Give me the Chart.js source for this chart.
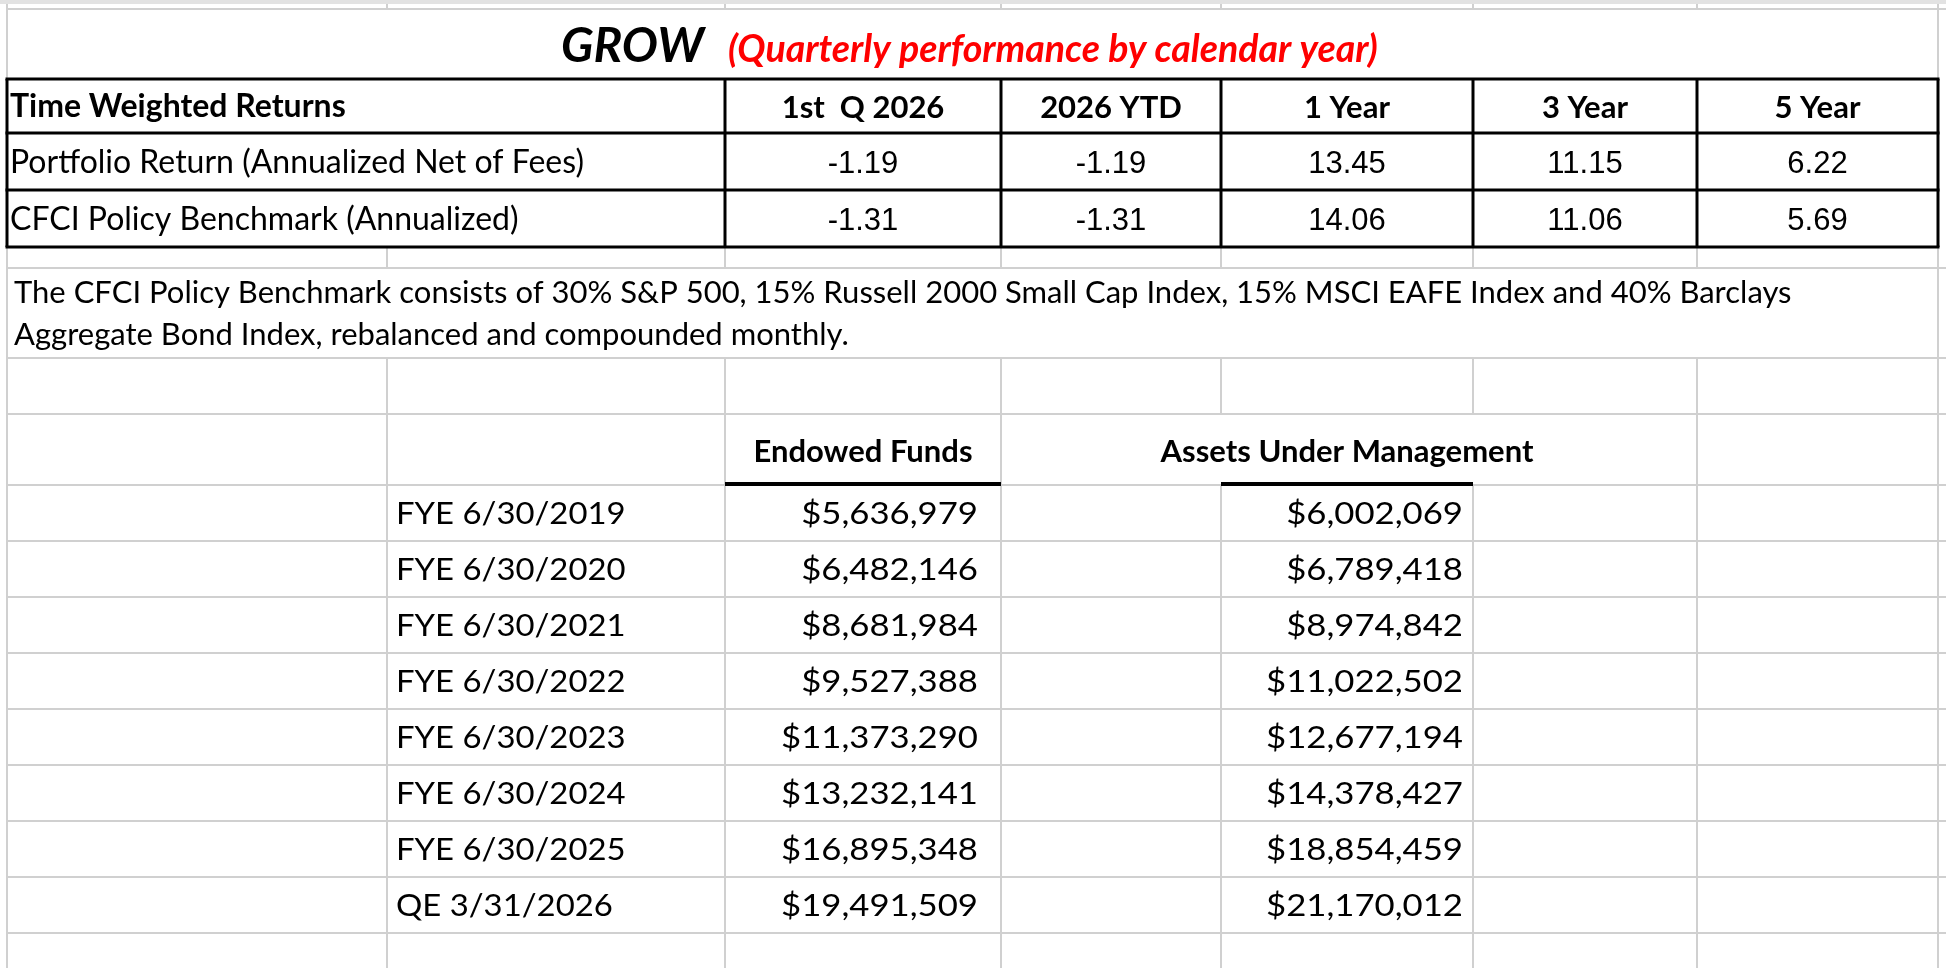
<!DOCTYPE html>
<html>
<head>
<meta charset="utf-8">
<script src="https://cdn.jsdelivr.net/npm/chart.js@4.4.1/dist/chart.umd.min.js"></script>
<style>
  html, body { margin: 0; padding: 0; background: #ffffff; overflow: hidden; }
  #wrap { position: relative; width: 1946px; height: 968px; }
</style>
</head>
<body>
<div id="wrap"><canvas id="sheet"></canvas></div>
<script>
// ---------------- DATA ----------------
const titleMain = "GROW";
const titleSub = "(Quarterly performance by calendar year)";
const twrCorner = "Time Weighted Returns";
const twrHeaders = ["1st  Q 2026", "2026 YTD", "1 Year", "3 Year", "5 Year"];
const twrRowLabels = ["Portfolio Return (Annualized Net of Fees)", "CFCI Policy Benchmark (Annualized)"];
const portfolioReturns = [-1.19, -1.19, 13.45, 11.15, 6.22];
const benchmarkReturns = [-1.31, -1.31, 14.06, 11.06, 5.69];
const noteLines = [
  "The CFCI Policy Benchmark consists of 30% S&P 500, 15% Russell 2000 Small Cap Index, 15% MSCI EAFE Index and 40% Barclays",
  "Aggregate Bond Index, rebalanced and compounded monthly."
];
const assetHeaders = ["Endowed Funds", "Assets Under Management"];
const periods = ["FYE 6/30/2019", "FYE 6/30/2020", "FYE 6/30/2021", "FYE 6/30/2022",
                 "FYE 6/30/2023", "FYE 6/30/2024", "FYE 6/30/2025", "QE 3/31/2026"];
const endowedFunds = [5636979, 6482146, 8681984, 9527388, 11373290, 13232141, 16895348, 19491509];
const assetsUnderMgmt = [6002069, 6789418, 8974842, 11022502, 12677194, 14378427, 18854459, 21170012];

// ---------------- LAYOUT (sheet geometry in sheet units) ----------------
const COLS = [7, 387, 725, 1001, 1221, 1473, 1697, 1938];
const SHEET_W = 1946, SHEET_H = 968;
const ROW = {
  topBandEnd: 4, firstGrid: 9, tableTop: 79, tableRow1: 133, tableRow2: 190, tableBottom: 247,
  gapEnd: 268, noteEnd: 358, emptyEnd: 414, headEnd: 485, dataH: 56
};
const GRID = "#d0d0d0";
const CAL = "Lato, 'Open Sans', sans-serif";
const ARIAL = "'Liberation Sans', Arial, sans-serif";
const NUM_STRETCH = 1.12;
const DATE_STRETCH = 1.06;

const fmtMoney = v => "$" + v.toLocaleString("en-US");
const fmtPct = v => v.toFixed(2);

const sheetPlugin = {
  id: "sheet",
  afterDraw(chart) {
    const ctx = chart.ctx;
    const xs = chart.scales.x, ys = chart.scales.y;
    const X = v => xs.getPixelForValue(v);
    const Y = v => ys.getPixelForValue(v);

    function hline(x1, x2, y, color, w) {
      ctx.strokeStyle = color; ctx.lineWidth = w;
      ctx.beginPath(); ctx.moveTo(X(x1), Y(y)); ctx.lineTo(X(x2), Y(y)); ctx.stroke();
    }
    function vline(x, y1, y2, color, w) {
      ctx.strokeStyle = color; ctx.lineWidth = w;
      ctx.beginPath(); ctx.moveTo(X(x), Y(y1)); ctx.lineTo(X(x), Y(y2)); ctx.stroke();
    }
    function text(str, x, y, align, font, color, sx) {
      ctx.save();
      ctx.font = font; ctx.fillStyle = color || "#000";
      ctx.textAlign = align; ctx.textBaseline = "alphabetic";
      ctx.translate(X(x), Y(y));
      ctx.scale(sx || 1, 1);
      ctx.fillText(str, 0, 0);
      ctx.restore();
    }

    ctx.save();
    // top band
    ctx.fillStyle = "#e2e2e2";
    ctx.fillRect(X(0), Y(0), X(SHEET_W) - X(0), Y(ROW.topBandEnd) - Y(0));

    // gray gridlines
    const dataRows = periods.length;
    const hGrid = [ROW.firstGrid, ROW.gapEnd, ROW.noteEnd, ROW.emptyEnd];
    for (let i = 0; i <= dataRows; i++) hGrid.push(ROW.headEnd + ROW.dataH * i);
    hGrid.forEach(y => hline(COLS[0], SHEET_W, y, GRID, 2));

    // outer verticals
    vline(COLS[0], ROW.topBandEnd, SHEET_H, GRID, 2);
    vline(COLS[7], ROW.topBandEnd, SHEET_H, GRID, 2);
    // inner verticals
    for (let c = 1; c <= 6; c++) {
      vline(COLS[c], ROW.topBandEnd, ROW.firstGrid, GRID, 2);
      vline(COLS[c], ROW.tableBottom, ROW.gapEnd, GRID, 2);
      vline(COLS[c], ROW.noteEnd, ROW.emptyEnd, GRID, 2);
      if (c !== 4 && c !== 5) vline(COLS[c], ROW.emptyEnd, ROW.headEnd, GRID, 2);
      vline(COLS[c], ROW.headEnd, SHEET_H, GRID, 2);
    }

    // black table borders
    [ROW.tableTop, ROW.tableRow1, ROW.tableRow2, ROW.tableBottom].forEach(y => hline(COLS[0] - 1.5, COLS[7] + 1.5, y, "#000", 3));
    [0, 2, 3, 4, 5, 6, 7].forEach(c => vline(COLS[c], ROW.tableTop, ROW.tableBottom, "#000", 3));

    // header underlines
    hline(COLS[2], COLS[3], ROW.headEnd - 1, "#000", 4);
    hline(COLS[4], COLS[5], ROW.headEnd - 1, "#000", 4);

    // title
    text(titleMain, 561, 62, "left", "italic bold 48px " + CAL, "#000");
    text(titleSub, 728, 62, "left", "italic bold 37.5px " + CAL, "#ff0000");

    // TWR table
    text(twrCorner, 10, 117, "left", "bold 32px " + CAL);
    twrHeaders.forEach((h, i) => {
      const cx = (COLS[i + 2] + COLS[i + 3]) / 2;
      text(h, cx, 118, "center", "bold 31px " + CAL);
    });
    const rowsVals = [portfolioReturns, benchmarkReturns];
    const rowBase = [173, 230];
    twrRowLabels.forEach((lab, r) => {
      text(lab, 10, rowBase[r], "left", "32px " + CAL);
      rowsVals[r].forEach((v, i) => {
        const cx = (COLS[i + 2] + COLS[i + 3]) / 2;
        text(fmtPct(v), cx, rowBase[r], "center", "31px " + ARIAL);
      });
    });

    // note
    text(noteLines[0], 14, 303, "left", "31px " + CAL);
    text(noteLines[1], 14, 345, "left", "31px " + CAL);

    // asset table headers
    text(assetHeaders[0], (COLS[2] + COLS[3]) / 2, 462, "center", "bold 31px " + CAL);
    text(assetHeaders[1], (COLS[4] + COLS[5]) / 2, 462, "center", "bold 31px " + CAL);

    periods.forEach((p, i) => {
      const base = ROW.headEnd + ROW.dataH * i + 39;
      text(p, 396, base, "left", "31px " + CAL, "#000", DATE_STRETCH);
      text(fmtMoney(endowedFunds[i]), 978, base, "right", "31px " + CAL, "#000", NUM_STRETCH);
      text(fmtMoney(assetsUnderMgmt[i]), 1463, base, "right", "31px " + CAL, "#000", NUM_STRETCH);
    });
    ctx.restore();
  }
};

function build() {
  new Chart(document.getElementById("sheet"), {
    type: "scatter",
    data: { datasets: [{ data: [], pointRadius: 0 }] },
    options: {
      responsive: true,
      maintainAspectRatio: false,
      animation: false,
      devicePixelRatio: 1,
      layout: { padding: 0 },
      plugins: { legend: { display: false }, tooltip: { enabled: false } },
      scales: {
        x: { type: "linear", min: 0, max: SHEET_W, display: false },
        y: { type: "linear", min: 0, max: SHEET_H, reverse: true, display: false }
      }
    },
    plugins: [sheetPlugin]
  });
}
const fontsToLoad = ["31px Lato", "bold 31px Lato", "italic bold 48px Lato", "31px 'Liberation Sans'"];
Promise.all(fontsToLoad.map(f => document.fonts.load(f).catch(() => null)))
  .then(build, build);
</script>
</body>
</html>
